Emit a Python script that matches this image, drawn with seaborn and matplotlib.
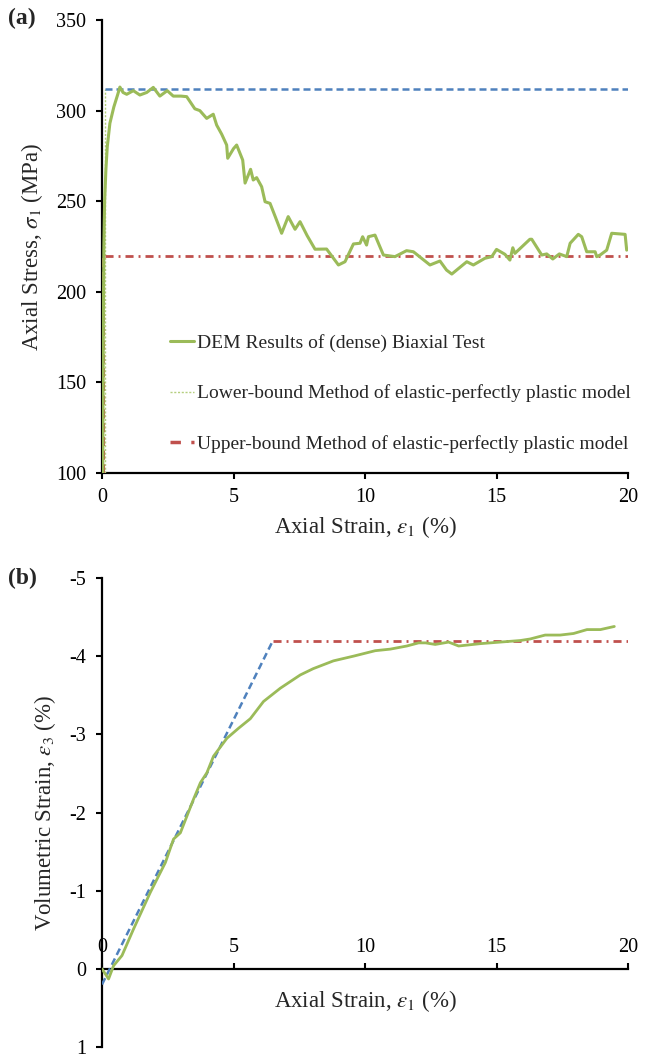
import numpy as np
import pandas as pd
import matplotlib
matplotlib.use("Agg")
import matplotlib.pyplot as plt
import seaborn as sns
from matplotlib.lines import Line2D

# ---------------- data ----------------
# Panel (a): DEM stress-strain curve
strain_a = [0.03, 0.05, 0.07, 0.10, 0.15, 0.20, 0.30, 0.45, 0.60, 0.68, 0.80, 0.94, 1.19, 1.44,
            1.70, 1.95, 2.20, 2.48, 2.71, 3.00, 3.22, 3.53, 3.72, 3.98, 4.23, 4.36, 4.55, 4.74,
            4.78, 5.00, 5.12, 5.35, 5.44, 5.65, 5.75, 5.88, 6.07, 6.20, 6.39, 6.60, 6.83, 7.08,
            7.34, 7.53, 7.80, 8.10, 8.54, 8.99, 9.24, 9.56, 9.81, 9.91, 10.06, 10.13, 10.38,
            10.51, 10.70, 11.14, 11.58, 11.84, 12.47, 12.85, 13.10, 13.30, 13.87, 14.12, 14.56,
            14.82, 15.00, 15.32, 15.51, 15.62, 15.70, 16.27, 16.34, 16.72, 16.91, 17.14, 17.39,
            17.67, 17.80, 18.11, 18.24, 18.43, 18.75, 18.81, 18.94, 19.19, 19.38, 19.89, 19.95]
stress_a = [100, 180, 225, 250, 268, 280, 293, 302, 309, 313, 310, 309, 311, 308.6,
            310, 312.8, 308, 311, 308, 308, 307.7, 301, 300, 295.7, 298, 292, 287, 281,
            273.7, 279, 281, 272.7, 260, 267.6, 261.7, 263, 258, 249.7, 248.8, 241, 232.3, 241.5,
            234.5, 238.7, 231, 223.5, 223.6, 214.8, 216.6, 226.4, 226.8, 230.4, 225.8, 230.4, 231.3,
            226.8, 220.3, 219.4, 222.7, 222.1, 214.8, 217, 212, 209.8, 216.6, 214.8, 218.5,
            219.4, 223.4, 220.7, 217.5, 224.3, 221.2, 229, 229, 220.3, 220.9, 218.1, 220.9,
            219.4, 226.8, 231.7, 230.4, 222.1, 222.1, 219.4, 220.3, 223, 232.3, 231.7, 223]

peak_stress = 312
residual_stress = 220
lower_bound_strain = 0.13
upper_bound_strain = 0.05
stress_floor = 100
strain_max = 20

# Panel (b): DEM volumetric strain curve
strain_b = [0, 0.25, 0.44, 0.76, 1.20, 1.84, 2.41, 2.72, 2.98, 3.48, 3.74, 3.99, 4.24, 4.75,
            5.20, 5.64, 6.14, 6.78, 7.54, 8.03, 8.80, 9.56, 10.39, 10.96, 11.59, 12.04, 12.30,
            12.67, 13.18, 13.56, 14.38, 15.14, 15.90, 16.28, 16.85, 17.42, 17.93, 18.44, 18.95, 19.48]
vol_b = [0, 0.13, -0.04, -0.17, -0.51, -0.98, -1.36, -1.66, -1.74, -2.17, -2.38, -2.51, -2.72, -2.95,
         -3.08, -3.20, -3.42, -3.59, -3.76, -3.84, -3.94, -4.00, -4.07, -4.09, -4.13, -4.17, -4.17,
         -4.15, -4.18, -4.13, -4.16, -4.18, -4.20, -4.22, -4.27, -4.27, -4.29, -4.34, -4.34, -4.38]

dilation_strain = [0, 6.5]
dilation_vol = [0.2, -4.2]
plateau_strain = [6.5, 20]
plateau_vol = [-4.2, -4.2]

legend_labels = ["DEM Results of (dense) Biaxial Test",
                 "Lower-bound Method of elastic-perfectly plastic model",
                 "Upper-bound Method of elastic-perfectly plastic model"]

# ---------------- style ----------------
sns.set_style("white")
plt.rcParams['font.family'] = ['Liberation Serif', 'DejaVu Serif']
plt.rcParams['mathtext.fontset'] = 'stix'
plt.rcParams['axes.unicode_minus'] = False

GREEN = "#9BBB59"
BLUE = "#4F81BD"
RED = "#C0504D"
LIGHTGREEN = "#B5CF7F"
FS_TICK = 14.5
FS_LABEL = 16.5
FS_LEG = 14

fig = plt.figure(figsize=(6.51, 10.54), dpi=100)
L, R = 102 / 651, 628 / 651
ax1 = fig.add_axes([L, 1 - 473 / 1054, R - L, (473 - 20) / 1054])
ax2 = fig.add_axes([L, 1 - 1047 / 1054, R - L, (1047 - 578) / 1054])

# ---------------- panel (a) ----------------
sns.lineplot(x=strain_a, y=stress_a, sort=False, estimator=None, ax=ax1,
             color=GREEN, lw=2.2, zorder=4)
sns.lineplot(x=[lower_bound_strain, lower_bound_strain], y=[stress_floor, peak_stress],
             sort=False, estimator=None, ax=ax1, color=LIGHTGREEN, lw=1.0,
             linestyle=(0, (1.5, 1.2)), zorder=3)
sns.lineplot(x=[upper_bound_strain, upper_bound_strain], y=[stress_floor, residual_stress],
             sort=False, estimator=None, ax=ax1, color=RED, lw=2.2,
             linestyle=(0, (3.0, 1.5)), zorder=3)
sns.lineplot(x=[lower_bound_strain, strain_max], y=[peak_stress, peak_stress],
             sort=False, estimator=None, ax=ax1, color=BLUE, lw=1.8,
             linestyle=(0, (2.8, 1.6)), zorder=3)
sns.lineplot(x=[lower_bound_strain, strain_max], y=[residual_stress, residual_stress],
             sort=False, estimator=None, ax=ax1, color=RED, lw=2.0,
             linestyle=(0, (2.9, 1.8, 0.7, 1.8)), zorder=3)

ax1.set_xlim(0, 20)
ax1.set_ylim(100, 350)
ax1.set_xticks([0, 5, 10, 15, 20])
ax1.set_yticks([100, 150, 200, 250, 300, 350])
for s in ["top", "right"]:
    ax1.spines[s].set_visible(False)
for s in ["left", "bottom"]:
    ax1.spines[s].set_linewidth(1.6)
    ax1.spines[s].set_color("black")
ax1.tick_params(axis="both", direction="out", length=4.5, width=1.5, labelsize=FS_TICK,
                colors="black", left=True, bottom=True)
ax1.tick_params(axis="y", pad=7)
ax1.tick_params(axis="x", pad=6.5)
ax1.set_xlabel(r"Axial Strain, $\varepsilon_1$ (%)", fontsize=FS_LABEL, labelpad=5)
ax1.set_ylabel(r"Axial Stress, $\sigma_1$ (MPa)", fontsize=FS_LABEL, labelpad=8)

handles = [Line2D([], [], color=GREEN, lw=2.2),
           Line2D([], [], color=LIGHTGREEN, lw=1.0, linestyle=(0, (1.5, 1.2))),
           Line2D([], [], color=RED, lw=2.5, linestyle=(0, (3.0, 3.0)))]
ax1.legend(handles, legend_labels, loc="upper left", bbox_to_anchor=(0.13, 0.307),
           frameon=False, fontsize=FS_LEG, handlelength=1.2, handletextpad=0.15,
           labelspacing=1.68, borderpad=0, borderaxespad=0)

# ---------------- panel (b) ----------------
sns.lineplot(x=strain_b, y=vol_b, sort=False, estimator=None, ax=ax2,
             color=GREEN, lw=2.0, zorder=4)
sns.lineplot(x=dilation_strain, y=dilation_vol, sort=False, estimator=None, ax=ax2,
             color=BLUE, lw=1.8, linestyle=(0, (2.8, 1.6)), zorder=3)
sns.lineplot(x=plateau_strain, y=plateau_vol, sort=False, estimator=None, ax=ax2,
             color=RED, lw=2.0, linestyle=(0, (2.9, 1.8, 0.7, 1.8)), zorder=3)

ax2.set_xlim(0, 20)
ax2.set_ylim(1, -5)
ax2.set_xticks([0, 5, 10, 15, 20])
ax2.set_yticks([-5, -4, -3, -2, -1, 0, 1])
ax2.spines["right"].set_visible(False)
ax2.spines["bottom"].set_visible(False)
ax2.spines["top"].set_position(("data", 0))
for s in ["left", "top"]:
    ax2.spines[s].set_linewidth(1.6)
    ax2.spines[s].set_color("black")
ax2.xaxis.set_ticks_position("top")
ax2.tick_params(axis="both", direction="out", length=4.5, width=1.5, labelsize=FS_TICK,
                colors="black", left=True)
ax2.tick_params(axis="y", pad=7)
ax2.tick_params(axis="x", pad=4)
ax2.set_xlabel(r"Axial Strain, $\varepsilon_1$ (%)", fontsize=FS_LABEL)
ax2.xaxis.set_label_position("bottom")
ax2.xaxis.set_label_coords(0.5, 0.125)
ax2.set_ylabel(r"Volumetric Strain, $\varepsilon_3$ (%)", fontsize=FS_LABEL, labelpad=8)

fig.text(8 / 651, 1 - 18 / 1054, "(a)", fontsize=17, fontweight="bold", va="center", ha="left")
fig.text(8 / 651, 1 - 578 / 1054, "(b)", fontsize=17, fontweight="bold", va="center", ha="left")

fig.savefig("out.png", dpi=100)
